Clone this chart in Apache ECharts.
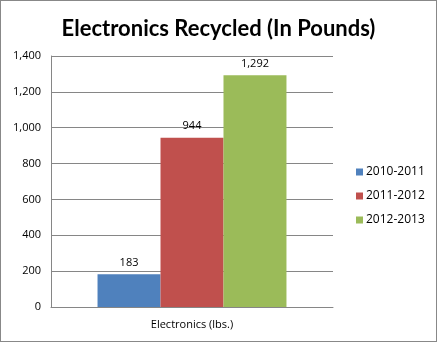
<!DOCTYPE html>
<html><head><meta charset="utf-8">
<script src="https://cdn.jsdelivr.net/npm/echarts@6/dist/echarts.min.js"></script>
<style>html,body{margin:0;padding:0;background:#fff}#c{width:437px;height:342px;box-sizing:border-box;border:1px solid #888}</style>
</head><body><div id="c"></div>
<script>
const categories = ["Electronics (lbs.)"];
const seriesNames = ["2010-2011", "2011-2012", "2012-2013"];
const values2010 = [183];
const values2011 = [944];
const values2012 = [1292];
const colors = ["#4F81BD", "#C0504D", "#9BBB59"];
const allValues = [values2010, values2011, values2012];

const chart = echarts.init(document.getElementById('c'), null, {renderer: 'canvas'});
const fmt = v => v.toLocaleString('en-US');
chart.setOption({
  animation: false,
  title: {
    text: "Electronics Recycled (In Pounds)",
    left: 'center', top: 12,
    textStyle: {fontFamily: 'Lato', fontWeight: 'bold', fontSize: 22, color: '#000'}
  },
  legend: {
    orient: 'vertical', left: 350, top: 160, itemGap: 12,
    itemWidth: 7, itemHeight: 7, icon: 'rect',
    textStyle: {fontFamily: 'Open Sans', fontSize: 12, color: '#000', padding: [0,0,0,-2]},
    data: seriesNames
  },
  grid: {left: 50, top: 55, width: 282, height: 251, containLabel: false},
  xAxis: {
    type: 'category', data: categories,
    axisLine: {lineStyle: {color: '#868686'}},
    axisTick: {show: false},
    axisLabel: {fontFamily: 'Open Sans', fontSize: 11, color: '#000', margin: 12}
  },
  yAxis: {
    type: 'value', min: 0, max: 1400, interval: 200,
    axisLine: {show: true, lineStyle: {color: '#868686'}},
    axisTick: {show: false},
    splitLine: {lineStyle: {color: '#868686'}},
    axisLabel: {fontFamily: 'Open Sans', fontSize: 11, color: '#000', margin: 10, formatter: fmt}
  },
  series: seriesNames.map((n, i) => ({
    name: n, type: 'bar', data: allValues[i],
    barGap: '0%', barCategoryGap: '33%',
    itemStyle: {color: colors[i]},
    label: {show: true, position: 'top', distance: 6, fontFamily: 'Open Sans', fontSize: 11, color: '#000', formatter: p => fmt(p.value)}
  }))
});
</script></body></html>
